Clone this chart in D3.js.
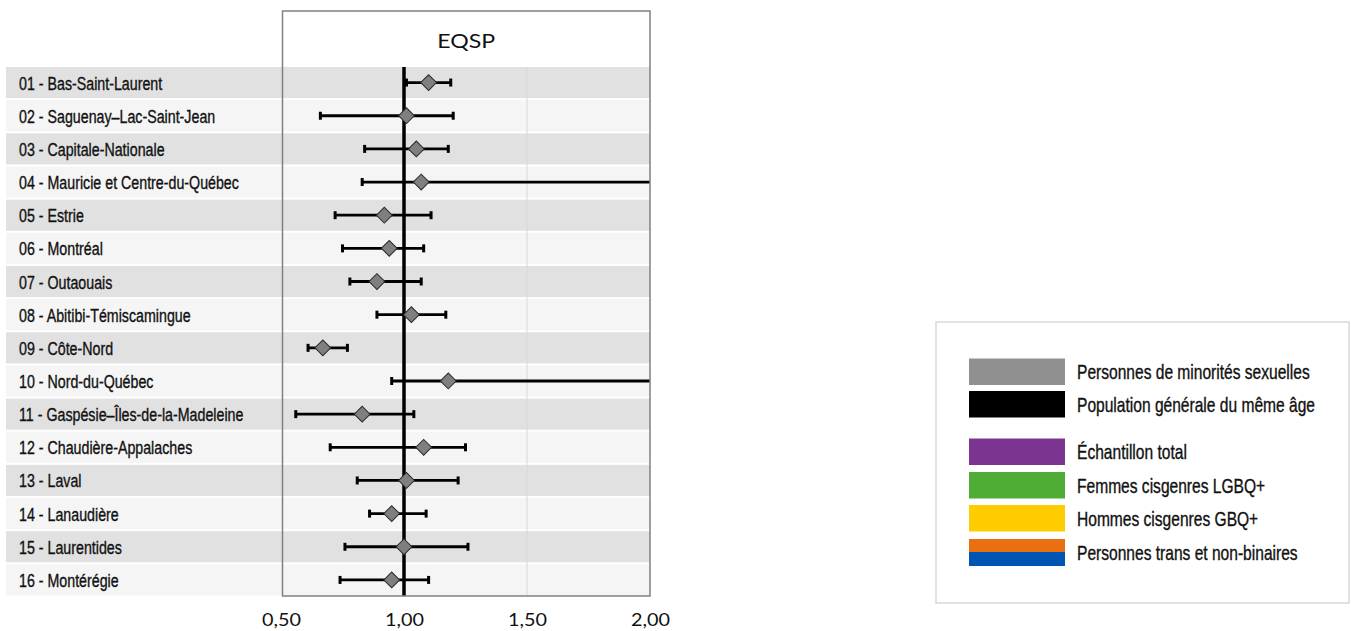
<!DOCTYPE html>
<html><head><meta charset="utf-8">
<script src="https://cdn.jsdelivr.net/npm/d3@7"></script>
<style>
html,body{margin:0;padding:0;background:#fff;}
svg{display:block;}
</style></head>
<body>
<svg id="chart" width="1351" height="631"></svg>
<script>
const regions = [
  "01 - Bas-Saint-Laurent",
  "02 - Saguenay\u2013Lac-Saint-Jean",
  "03 - Capitale-Nationale",
  "04 - Mauricie et Centre-du-Québec",
  "05 - Estrie",
  "06 - Montréal",
  "07 - Outaouais",
  "08 - Abitibi-Témiscamingue",
  "09 - Côte-Nord",
  "10 - Nord-du-Québec",
  "11 - Gaspésie\u2013Îles-de-la-Madeleine",
  "12 - Chaudière-Appalaches",
  "13 - Laval",
  "14 - Lanaudière",
  "15 - Laurentides",
  "16 - Montérégie"
];
const ratio = [1.10, 1.01, 1.05, 1.07, 0.92, 0.94, 0.89, 1.03, 0.67, 1.18, 0.83, 1.08, 1.01, 0.95, 1.00, 0.95];
const ciLow = [1.01, 0.66, 0.84, 0.83, 0.72, 0.75, 0.78, 0.89, 0.61, 0.95, 0.56, 0.70, 0.81, 0.86, 0.76, 0.74];
const ciHigh = [1.19, 1.20, 1.18, 2.40, 1.11, 1.08, 1.07, 1.17, 0.77, 2.60, 1.04, 1.25, 1.22, 1.09, 1.26, 1.10];
const xTicks = [0.5, 1.0, 1.5, 2.0];
const refValue = 1.0;
const panelTitle = "EQSP";
const legendLabels = ["Personnes de minorités sexuelles", "Population générale du même âge", "Échantillon total", "Femmes cisgenres LGBQ+", "Hommes cisgenres GBQ+", "Personnes trans et non-binaires"];
const legendColors = [["#909090"], ["#000000"], ["#7b3590"], ["#4fac34"], ["#ffcc00"], ["#e97011", "#0055b3"]];

const svg = d3.select("#chart");
const labelFont = "'Liberation Sans','Arial',sans-serif";
const geoFont = "'Lato','Open Sans','DejaVu Sans',sans-serif";

// condense text horizontally so that a reference string has a given width
function fitScale(font, size, sample, target) {
  const t = svg.append("text").attr("font-family", font).attr("font-size", size).text(sample);
  const w = t.node().getComputedTextLength();
  t.remove();
  return target / w;
}

const x = d3.scaleLinear().domain([0.5, 2.0]).range([281, 650]);
const y = d3.scaleBand().domain(regions).range([67, 597.5]).padding(0);
const bandH = y.bandwidth() - 2;

// row bands
svg.append("g").selectAll("rect").data(regions).join("rect")
  .attr("x", 6).attr("y", d => y(d)).attr("width", 650 - 6).attr("height", bandH)
  .attr("fill", (d, i) => i % 2 === 0 ? "#e1e1e1" : "#f5f5f5");

// labels
const labSize = 18.5;
const labScale = fitScale(labelFont, labSize, regions[3], 220);
svg.append("g").selectAll("text").data(regions).join("text")
  .attr("transform", d => `translate(19,${y(d) + bandH / 2 + 7.0}) scale(${labScale},1)`)
  .attr("font-family", labelFont).attr("font-size", labSize).attr("fill", "#111")
  .attr("stroke", "#111").attr("stroke-width", 0.35)
  .text(d => d);

// gridline 1.5
svg.append("line").attr("x1", x(1.5)).attr("x2", x(1.5)).attr("y1", 67).attr("y2", 596)
  .attr("stroke", "#d8d8d8").attr("stroke-width", 1);

// panel clip
svg.append("clipPath").attr("id", "pclip").append("rect")
  .attr("x", x(0.5)).attr("y", 0).attr("width", x(2.0) - x(0.5)).attr("height", 631);

// reference line
svg.append("line").attr("x1", x(refValue)).attr("x2", x(refValue)).attr("y1", 67).attr("y2", 596)
  .attr("stroke", "#000").attr("stroke-width", 3.5);

const g = svg.append("g").attr("clip-path", "url(#pclip)");
const cy = d => y(d) + bandH / 2;
g.selectAll("line.ci").data(regions).join("line").attr("class", "ci")
  .attr("x1", (d, i) => x(ciLow[i])).attr("x2", (d, i) => x(ciHigh[i]))
  .attr("y1", cy).attr("y2", cy).attr("stroke", "#000").attr("stroke-width", 2.8);
g.selectAll("line.capL").data(regions).join("line").attr("class", "capL")
  .attr("x1", (d, i) => x(ciLow[i])).attr("x2", (d, i) => x(ciLow[i]))
  .attr("y1", d => cy(d) - 4).attr("y2", d => cy(d) + 4).attr("stroke", "#000").attr("stroke-width", 3);
g.selectAll("line.capH").data(regions).join("line").attr("class", "capH")
  .attr("x1", (d, i) => x(ciHigh[i])).attr("x2", (d, i) => x(ciHigh[i]))
  .attr("y1", d => cy(d) - 4).attr("y2", d => cy(d) + 4).attr("stroke", "#000").attr("stroke-width", 3);
const sym = d3.symbol().type(d3.symbolSquare).size(125);
g.selectAll("path.pt").data(regions).join("path").attr("class", "pt")
  .attr("d", sym)
  .attr("transform", (d, i) => `translate(${x(ratio[i])},${cy(d)}) rotate(45)`)
  .attr("fill", "#7f7f7f").attr("stroke", "#2a2a2a").attr("stroke-width", 1);

// panel box
svg.append("rect").attr("x", 282.5).attr("y", 11).attr("width", 650 - 282.5).attr("height", 596 - 11)
  .attr("fill", "none").attr("stroke", "#808080").attr("stroke-width", 1.5);

// title
const titleScale = fitScale(geoFont, 20, panelTitle, 58);
svg.append("text").attr("transform", `translate(${(282.5 + 650) / 2},48) scale(${titleScale},1)`)
  .attr("text-anchor", "middle")
  .attr("font-family", geoFont).attr("font-size", 20).attr("fill", "#111").text(panelTitle);

// axis
const tickFmt = d => d3.format(".2f")(d).replace(".", ",");
const tickScale = fitScale(geoFont, 18, "1,00", 39);
const axis = d3.axisBottom(x).tickValues(xTicks).tickSize(0).tickFormat(tickFmt);
const ax = svg.append("g").attr("transform", "translate(0,0)").call(axis);
ax.select(".domain").remove();
ax.selectAll(".tick text").attr("y", 0).attr("dy", null)
  .attr("transform", `translate(0,626) scale(${tickScale},1)`)
  .attr("font-family", geoFont).attr("font-size", 18).attr("fill", "#111");

// legend
const lg = svg.append("g");
lg.append("rect").attr("x", 936).attr("y", 322).attr("width", 413).attr("height", 281)
  .attr("fill", "#fff").attr("stroke", "#d9d9d9").attr("stroke-width", 1.5);
const legY = [358.5, 391, 438.5, 472, 505, 539];
const legSize = 20;
const legScale = fitScale(labelFont, legSize, legendLabels[0], 233);
legendLabels.forEach((lab, i) => {
  const cols = legendColors[i];
  if (cols.length === 1) {
    lg.append("rect").attr("x", 969).attr("y", legY[i]).attr("width", 96).attr("height", 26.5).attr("fill", cols[0]);
  } else {
    lg.append("rect").attr("x", 969).attr("y", legY[i]).attr("width", 96).attr("height", 13).attr("fill", cols[0]);
    lg.append("rect").attr("x", 969).attr("y", legY[i] + 13).attr("width", 96).attr("height", 14).attr("fill", cols[1]);
  }
  lg.append("text").attr("transform", `translate(1077,${legY[i] + 13.3 + 7.5}) scale(${legScale},1)`)
    .attr("font-family", labelFont).attr("font-size", legSize).attr("fill", "#111")
    .attr("stroke", "#111").attr("stroke-width", 0.35).text(lab);
});
</script>
</body></html>
